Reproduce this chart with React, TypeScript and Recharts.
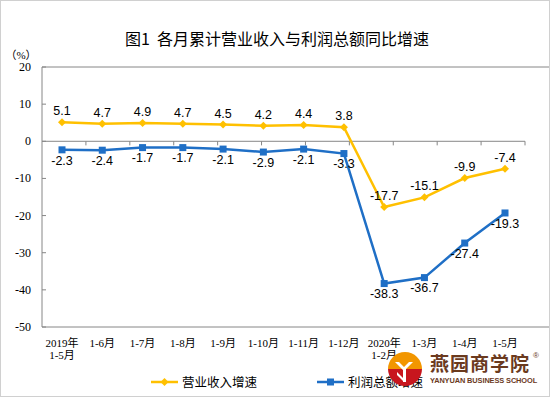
import React from "react";
import {
  LineChart,
  Line,
  XAxis,
  YAxis,
  ReferenceLine,
  ReferenceArea,
  LabelList,
  Legend,
} from "recharts";

const months = [
  "2019年\n1-5月",
  "1-6月",
  "1-7月",
  "1-8月",
  "1-9月",
  "1-10月",
  "1-11月",
  "1-12月",
  "2020年\n1-2月",
  "1-3月",
  "1-4月",
  "1-5月",
];
const revenueGrowth = [5.1, 4.7, 4.9, 4.7, 4.5, 4.2, 4.4, 3.8, -17.7, -15.1, -9.9, -7.4];
const profitGrowth = [-2.3, -2.4, -1.7, -1.7, -2.1, -2.9, -2.1, -3.3, -38.3, -36.7, -27.4, -19.3];
const yTicks = [-50, -40, -30, -20, -10, 0, 10, 20];
// category boundaries on the zero line (for the little hanging tick marks)
const categoryBounds = [1, 2, 3, 4, 5, 6, 7, 8, 9, 10, 11];

const ORANGE = "#FFC000";
const BLUE = "#1F6FC6";
const AXIS = "#868686";
const SERIF = "'Liberation Serif', 'Noto Sans CJK SC', serif";
const SANS = "'Liberation Sans', Arial, sans-serif";
const CJK = "'Noto Sans CJK SC', sans-serif";

const data = months.map((m, i) => ({
  month: m,
  revenue: revenueGrowth[i],
  profit: profitGrowth[i],
}));

function MonthTick({ x, y, payload }: any) {
  const lines = String(payload.value).split("\n");
  return (
    <text x={x} y={y + 18} textAnchor="middle" fontSize={11} fill="#000" fontFamily={SERIF}>
      {lines.map((l, i) => (
        <tspan key={i} x={x} dy={i === 0 ? 0 : 12}>
          {l}
        </tspan>
      ))}
    </text>
  );
}

function PercentTick({ x, y, payload }: any) {
  return (
    <g>
      <line x1={x} x2={x + 4} y1={y} y2={y} stroke={AXIS} />
      <text
        x={x - 11}
        y={y}
        textAnchor="end"
        dominantBaseline="central"
        fontSize={12}
        fill="#000"
        fontFamily={SERIF}
      >
        {payload.value}
      </text>
    </g>
  );
}

function Diamond({ cx, cy, index }: any) {
  return (
    <path
      key={`d-${index}`}
      d={`M${cx} ${cy - 4}L${cx + 4} ${cy}L${cx} ${cy + 4}L${cx - 4} ${cy}Z`}
      fill={ORANGE}
    />
  );
}

function Square({ cx, cy, index }: any) {
  return <rect key={`s-${index}`} x={cx - 3.5} y={cy - 3.5} width={7} height={7} fill={BLUE} />;
}

function LegendContent() {
  const items = [
    { name: "营业收入增速", color: ORANGE, shape: "diamond" },
    { name: "利润总额增速", color: BLUE, shape: "square" },
  ];
  return (
    <div style={{ display: "flex", gap: 60, alignItems: "center" }}>
      {items.map((it) => (
        <div key={it.name} style={{ display: "flex", alignItems: "center", gap: 4 }}>
          <svg width={27} height={10}>
            <line x1={0} x2={27} y1={5} y2={5} stroke={it.color} strokeWidth={2.5} />
            {it.shape === "diamond" ? (
              <path d="M13.5 1L17.5 5L13.5 9L9.5 5Z" fill={it.color} />
            ) : (
              <rect x={10} y={1.5} width={7} height={7} fill={it.color} />
            )}
          </svg>
          <span style={{ fontSize: 12.5, fontFamily: CJK, color: "#000" }}>{it.name}</span>
        </div>
      ))}
    </div>
  );
}

function Logo() {
  return (
    <div style={{ position: "absolute", left: 387, top: 351, width: 160, height: 36 }}>
      <svg width={36} height={36} style={{ position: "absolute", left: 0, top: 0 }}>
        <path d="M1 18A17 17 0 0 1 35 18Z" fill="#F29600" />
        <path d="M1 18A17 17 0 0 0 35 18Z" fill="#C8161E" />
        <path d="M8 11L17 20L26 11L22 11L17 16L12 11Z" fill="#fff" />
        <path d="M16 18L19 18L19 31L16 31Z" fill="#fff" />
        <path d="M10 21L16 27L16 30L10 24Z" fill="#fff" />
      </svg>
      <div
        style={{
          position: "absolute",
          left: 43,
          top: 0,
          fontSize: 19,
          fontWeight: 700,
          letterSpacing: 1,
          color: "#6B3A1E",
          fontFamily: CJK,
          lineHeight: "24px",
          whiteSpace: "nowrap",
        }}
      >
        燕园商学院
      </div>
      <div
        style={{
          position: "absolute",
          left: 146,
          top: 0,
          fontSize: 8,
          color: "#6B3A1E",
          fontFamily: SANS,
        }}
      >
        ®
      </div>
      <div
        style={{
          position: "absolute",
          left: 43,
          top: 25,
          fontSize: 7.4,
          fontWeight: 700,
          color: "#6B3A1E",
          fontFamily: SANS,
          whiteSpace: "nowrap",
          letterSpacing: -0.1,
        }}
      >
        YANYUAN BUSINESS SCHOOL
      </div>
    </div>
  );
}

export default function App() {
  return (
    <div style={{ position: "relative", width: 550, height: 397, background: "#fff", overflow: "hidden" }}>
      <style>{`body{margin:0}`}</style>
      <div
        style={{
          position: "absolute",
          left: 0,
          right: 0,
          top: 26,
          textAlign: "center",
          fontSize: 16,
          fontFamily: CJK,
          color: "#000",
          paddingLeft: 4,
        }}
      >
        图1&nbsp; 各月累计营业收入与利润总额同比增速
      </div>
      <div style={{ position: "absolute", left: 0, top: 0 }}>
        <LineChart
          width={550}
          height={397}
          data={data}
          margin={{ top: 67, right: 25, bottom: 40, left: 0 }}
        >
          <XAxis
            dataKey="month"
            interval={0}
            height={30}
            padding={{ left: 20, right: 20 }}
            axisLine={false}
            tickLine={false}
            tickSize={0}
            tick={<MonthTick />}
          />
          <XAxis xAxisId="bounds" type="number" domain={[0, 12]} hide allowDataOverflow />
          <YAxis
            width={42}
            domain={[-50, 20]}
            ticks={yTicks}
            interval={0}
            axisLine={false}
            tickLine={false}
            tickSize={0}
            tickMargin={0}
            tick={<PercentTick />}
            label={{
              value: "（%）",
              position: "top",
              offset: 8,
              fontSize: 11,
              fill: "#000",
              fontFamily: SERIF,
            }}
          />
          <ReferenceArea
            xAxisId="bounds"
            x1={0}
            x2={12}
            y1={-50}
            y2={20}
            fill="none"
            stroke={AXIS}
            strokeWidth={1}
            ifOverflow="visible"
          />
          <ReferenceLine y={0} stroke={AXIS} strokeWidth={1} />
          {categoryBounds.map((b) => (
            <ReferenceLine
              key={b}
              xAxisId="bounds"
              segment={[
                { x: b, y: 0 },
                { x: b, y: -1.1 },
              ]}
              stroke={AXIS}
              strokeWidth={1}
            />
          ))}
          <Line
            type="linear"
            dataKey="revenue"
            name="营业收入增速"
            stroke={ORANGE}
            strokeWidth={2.5}
            dot={Diamond}
            activeDot={false}
            isAnimationActive={false}
          >
            <LabelList
              dataKey="revenue"
              position="top"
              offset={7}
              fontSize={12.5}
              fill="#000"
              fontFamily={SANS}
            />
          </Line>
          <Line
            type="linear"
            dataKey="profit"
            name="利润总额增速"
            stroke={BLUE}
            strokeWidth={2.5}
            dot={Square}
            activeDot={false}
            isAnimationActive={false}
          >
            <LabelList
              dataKey="profit"
              position="bottom"
              offset={6}
              fontSize={12.5}
              fill="#000"
              fontFamily={SANS}
            />
          </Line>
          <Legend
            layout="horizontal"
            verticalAlign="middle"
            align="center"
            content={<LegendContent />}
            wrapperStyle={{ left: 151, top: 372, width: 300 }}
          />
        </LineChart>
      </div>
      <Logo />
      <div
        style={{
          position: "absolute",
          inset: 0,
          border: "1px solid #d0d0d0",
          pointerEvents: "none",
        }}
      />
    </div>
  );
}
